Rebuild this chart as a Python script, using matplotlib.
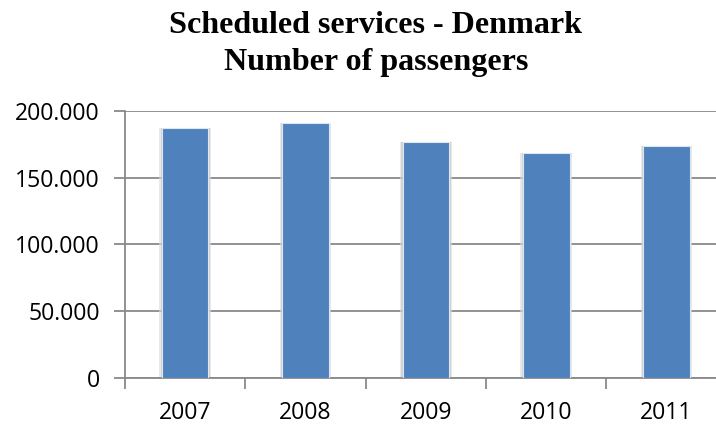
import matplotlib.pyplot as plt
from matplotlib.ticker import FuncFormatter, FixedLocator

years = ["2007", "2008", "2009", "2010", "2011"]
passengers = [187000, 190500, 176800, 168100, 173800]
y_ticks = [0, 50000, 100000, 150000, 200000]

BAR_BLUE = "#4F81BD"
GRID_GRAY = "#898989"


def thousands(v, pos):
    # Danish style: dot as thousands separator
    return f"{int(v):,}".replace(",", ".")


def main():
    fig = plt.figure(figsize=(7.16, 4.25), dpi=100)
    W, H = 716, 425
    left, right, bottom, top = 125, 726.8, 378, 110.7
    ax = fig.add_axes([left / W, (H - bottom) / H, (right - left) / W, (bottom - top) / H])

    x = range(len(years))
    # soft shadow behind each bar
    ax.bar(x, passengers, width=0.43, color="#d9d9d9", alpha=0.6, zorder=2)
    ax.bar(x, passengers, width=0.41, color="#c8c8c8", alpha=0.6, zorder=2)
    ax.bar(x, passengers, width=0.387, color=BAR_BLUE, edgecolor="#dce6f2",
           linewidth=0.8, zorder=3)

    ax.set_xlim(-0.5, 4.5)
    ax.set_ylim(0, 200000)
    ax.set_yticks(y_ticks)
    ax.yaxis.set_major_formatter(FuncFormatter(thousands))
    ax.yaxis.grid(True, color=GRID_GRAY, linewidth=1.3, zorder=1)
    ax.set_axisbelow(True)

    ax.set_xticks(list(x))
    ax.set_xticklabels(years)
    ax.xaxis.set_minor_locator(FixedLocator([-0.5, 0.5, 1.5, 2.5, 3.5]))
    ax.tick_params(axis="x", which="major", length=0, pad=16.5)
    ax.tick_params(axis="x", which="minor", length=8, width=1.3, color=GRID_GRAY)
    ax.tick_params(axis="y", length=8, width=1.3, color=GRID_GRAY, pad=10)

    for lbl in ax.get_xticklabels() + ax.get_yticklabels():
        lbl.set_fontfamily("Open Sans")
        lbl.set_fontsize(16.6)
        lbl.set_color("black")

    for side in ("top", "right"):
        ax.spines[side].set_visible(False)
    for side in ("left", "bottom"):
        ax.spines[side].set_color(GRID_GRAY)
        ax.spines[side].set_linewidth(1.3)

    fig.text(0.525, 1 - 33 / H, "Scheduled services - Denmark", ha="center", va="baseline",
             fontfamily="Liberation Serif", fontweight="bold", fontsize=23.1)
    fig.text(0.525, 1 - 70 / H, "Number of passengers", ha="center", va="baseline",
             fontfamily="Liberation Serif", fontweight="bold", fontsize=23.1)

    fig.savefig("out.png", dpi=100)


if __name__ == "__main__":
    main()
